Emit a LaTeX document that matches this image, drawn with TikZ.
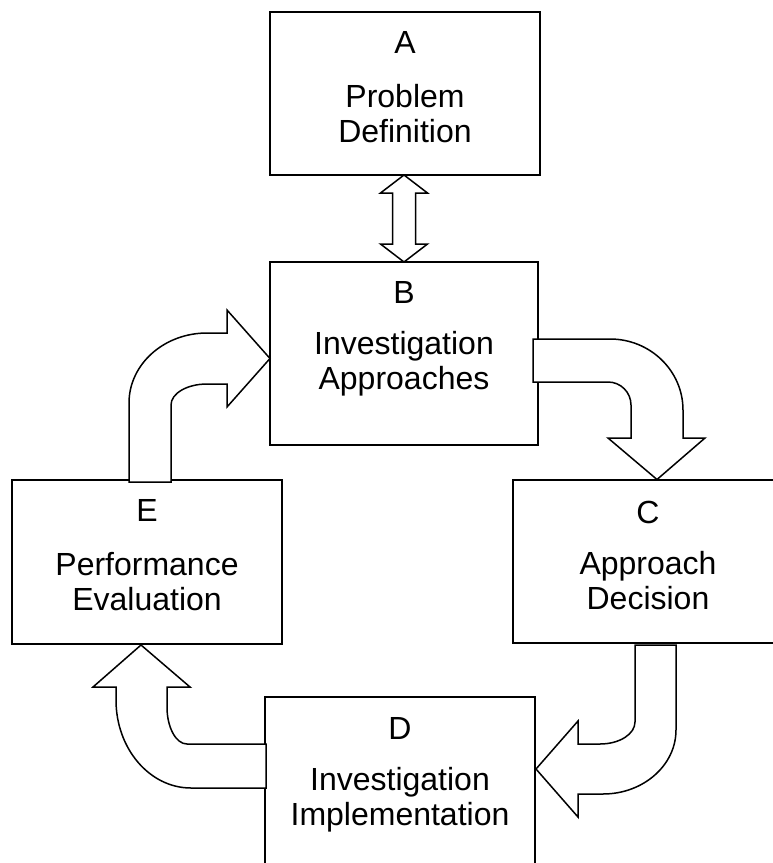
\documentclass[tikz,border=0pt]{standalone}
\usepackage{fontspec}
\setmainfont{Liberation Sans}
\begin{document}
\begin{tikzpicture}[x=1pt,y=-1pt,
  box/.style={draw,line width=1.5pt,fill=white,rectangle,inner sep=0pt},
  blockarrow/.style={draw,line width=1.5pt,fill=white,line join=miter},
  lbl/.style={font=\fontsize{32}{35}\selectfont,align=center,inner sep=0pt}]
\useasboundingbox (0,0) rectangle (773,863);
\clip (0,0) rectangle (773,863);
% boxes
\node[box,minimum width=270pt,minimum height=163pt] (A) at (405,93.5) {};
\node[box,minimum width=268pt,minimum height=183pt] (B) at (404,353.5) {};
\node[box,minimum width=270pt,minimum height=164pt] (E) at (147,562) {};
\node[box,minimum width=270pt,minimum height=163pt] (C) at (648,561.5) {};
\node[box,minimum width=270pt,minimum height=173pt] (D) at (400,783.5) {};
% texts
\node[lbl] (Aid) at (405,42) {A};
\node[lbl] (Atx) at (405,113.5) {Problem\\Definition};
\node[lbl] (Bid) at (404,292) {B};
\node[lbl] (Btx) at (404,363.5) {Investigation\\Approaches};
\node[lbl] (Eid) at (147,510) {E};
\node[lbl] (Etx) at (147,581.5) {Performance\\Evaluation};
\node[lbl] (Cid) at (648,512) {C};
\node[lbl] (Ctx) at (648,580.5) {Approach\\Decision};
\node[lbl] (Did) at (400,728) {D};
\node[lbl] (Dtx) at (400,799.5) {Investigation\\Implementation};
% double arrow A <-> B
\draw[blockarrow] (404,175) -- (427.5,193) -- (415.5,193) -- (415.5,244) -- (427.5,244)
  -- (404,262) -- (380.5,244) -- (392.5,244) -- (392.5,193) -- (380.5,193) -- cycle;
% E -> B
\draw[blockarrow] (129,482) -- (129,403) .. controls (129,364.3) and (163.9,333) .. (207,333)
  -- (227,333) -- (227,310) -- (270,358.5) -- (227,407) -- (227,384) -- (207,384)
  .. controls (187.1,384) and (171,393.4) .. (171,405) -- (171,482) -- cycle;
% B -> C
\draw[blockarrow] (533,339) -- (610,339) .. controls (650.3,339) and (683,370.8) .. (683,410)
  -- (683,438) -- (705,438) -- (657,479.5) -- (608,438) -- (631,438) -- (631,405)
  .. controls (631,392.3) and (620.7,382) .. (608,382) -- (533,382) -- cycle;
% C -> D
\draw[blockarrow] (635,645) -- (676,645) -- (676,730) .. controls (676,765.3) and (643.3,794) .. (603,794)
  -- (578,794) -- (578,817) -- (536,769) -- (578,721) -- (578,744) -- (600,744)
  .. controls (619.3,744) and (635,734.2) .. (635,722) -- cycle;
% D -> E
\draw[blockarrow] (141,645) -- (190,687) -- (167,687) -- (167,707)
  .. controls (167,727.4) and (176,744) .. (187,744) -- (266,744) -- (266,788) -- (191,788)
  .. controls (149.6,788) and (116,748.6) .. (116,700) -- (116,687) -- (93,687) -- cycle;
\end{tikzpicture}
\end{document}
